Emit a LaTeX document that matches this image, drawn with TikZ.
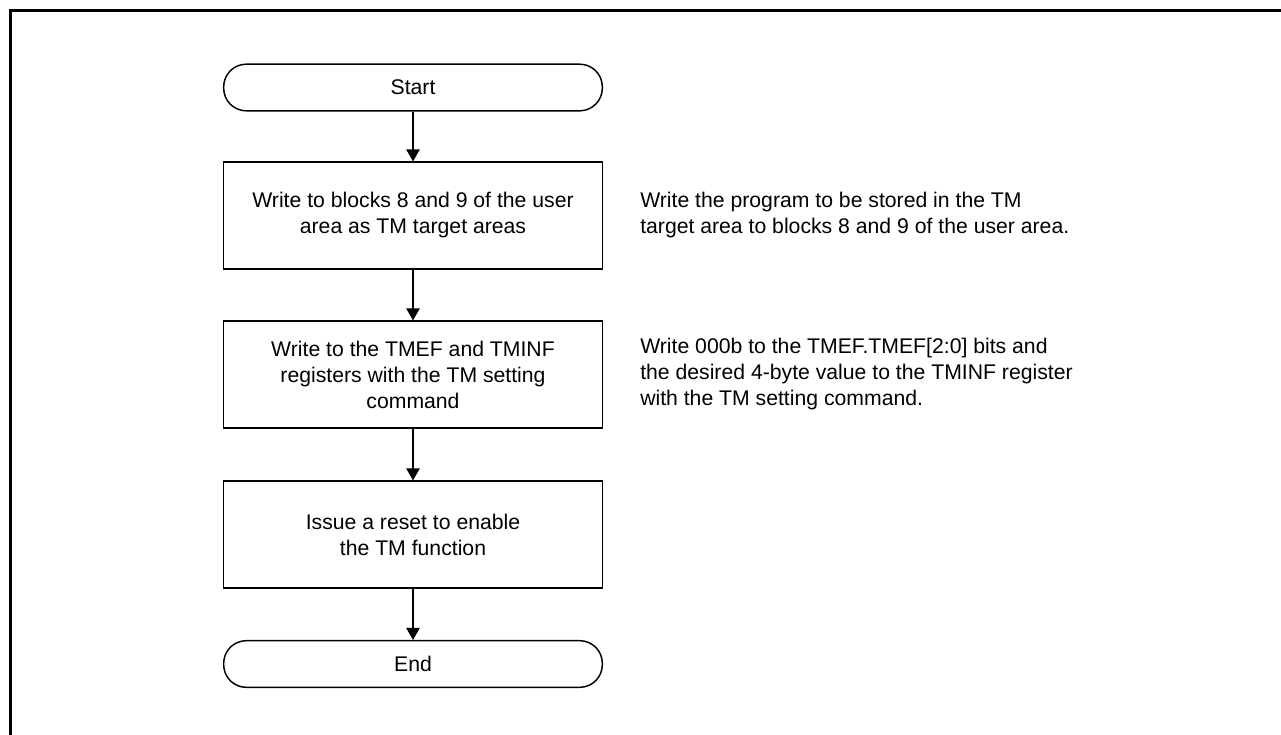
\documentclass[tikz,border=0pt]{standalone}
\usepackage{fontspec}
\setmainfont{Liberation Sans}
\usetikzlibrary{arrows.meta}
\tikzset{
  every node/.style={font=\fontsize{15.9}{19.5}\selectfont},
  term/.style={draw=black, line width=1.1pt, rounded corners=17pt, minimum width=284pt, minimum height=35pt, inner sep=0pt, align=center},
  proc/.style={draw=black, line width=1.1pt, minimum width=284pt, minimum height=80pt, inner sep=0pt, align=center},
  note/.style={anchor=west, inner sep=0pt, align=left},
  flow/.style={line width=1.1pt, -{Triangle[length=9pt,width=10pt]}},
  frameline/.style={line width=2.3pt}
}
\begin{document}
\begin{tikzpicture}[x=0.75pt,y=-0.75pt]
\useasboundingbox (0,0) rectangle (1281,735);
\draw[frameline] (10.5,740) -- (10.5,10.5) -- (1290,10.5);
\node[term] (start) at (413,87.5) {Start};
\node[proc] (b1) at (413,215.5) {Write to blocks 8 and 9 of the user\\area as TM target areas};
\node[proc] (b2) at (413,374.5) {Write to the TMEF and TMINF\\registers with the TM setting\\command};
\node[proc] (b3) at (413,534.5) {Issue a reset to enable\\the TM function};
\node[term] (end) at (413,664) {End};
\node[note] (n1) at (640,215.5) {Write the program to be stored in the TM\\target area to blocks 8 and 9 of the user area.};
\node[note] (n2) at (640,374.5) {Write 000b to the TMEF.TMEF[2:0] bits and\\the desired 4-byte value to the TMINF register\\with the TM setting command.};
\draw[flow] (start) -- (b1);
\draw[flow] (b1) -- (b2);
\draw[flow] (b2) -- (b3);
\draw[flow] (b3) -- (end);
\end{tikzpicture}
\end{document}
